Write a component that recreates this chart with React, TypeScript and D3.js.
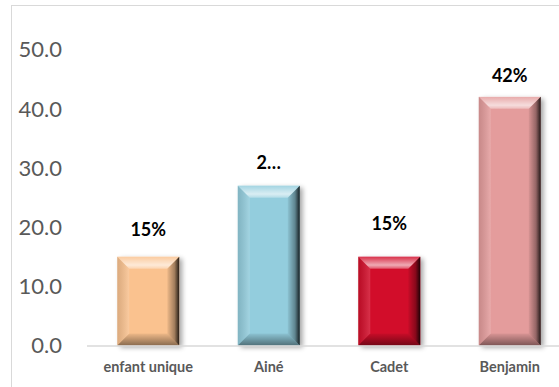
import React from "react";
import * as d3 from "d3";

const categories = ["enfant unique", "Ainé", "Cadet", "Benjamin"];
const values = [15, 27, 15, 42];
const valueLabels = ["15%", "2…", "15%", "42%"];
const barColors = ["#FAC28F", "#93CDDD", "#D2102A", "#E49C9C"];
const yTicks = [0, 10, 20, 30, 40, 50];

// label distance above the bar top (px), as placed in the original
const labelGaps = [21, 17, 27, 15];

const W = 559;
const H = 387;

export default function App() {
  const x = d3.scaleBand<string>().domain(categories).range([88, 570]).paddingInner(0.485).paddingOuter(0.2425);
  const y = d3.scaleLinear().domain([0, 50]).range([345.5, 49.5]);
  const bw = 62;
  const bev = 12;
  const font = "Lato, 'Open Sans', sans-serif";

  return (
    <svg width={W} height={H} style={{ position: "absolute", left: 0, top: 0, background: "#fff" }}>
      <defs>
        <filter id="shadow" x="-30%" y="-30%" width="160%" height="160%">
          <feGaussianBlur in="SourceAlpha" stdDeviation="2.5" />
          <feOffset dx="3" dy="2" result="b" />
          <feComponentTransfer>
            <feFuncA type="linear" slope="0.35" />
          </feComponentTransfer>
          <feMerge>
            <feMergeNode />
            <feMergeNode in="SourceGraphic" />
          </feMerge>
        </filter>
        <linearGradient id="topG" x1="0" y1="0" x2="0" y2="1">
          <stop offset="0" stopColor="#fff" stopOpacity="0.15" />
          <stop offset="0.7" stopColor="#fff" stopOpacity="0.65" />
          <stop offset="1" stopColor="#fff" stopOpacity="0.3" />
        </linearGradient>
        <linearGradient id="leftG" x1="0" y1="0" x2="1" y2="0">
          <stop offset="0" stopColor="#000" stopOpacity="0.12" />
          <stop offset="1" stopColor="#fff" stopOpacity="0.15" />
        </linearGradient>
        <linearGradient id="rightG" x1="0" y1="0" x2="1" y2="0">
          <stop offset="0" stopColor="#000" stopOpacity="0.05" />
          <stop offset="0.6" stopColor="#000" stopOpacity="0.35" />
          <stop offset="1" stopColor="#000" stopOpacity="0.85" />
        </linearGradient>
        <linearGradient id="bottomG" x1="0" y1="0" x2="0" y2="1">
          <stop offset="0" stopColor="#000" stopOpacity="0.05" />
          <stop offset="1" stopColor="#000" stopOpacity="0.45" />
        </linearGradient>
      </defs>

      <rect x={11.5} y={5.5} width={W} height={H} fill="#fff" stroke="#d9d9d9" strokeWidth={1} />

      {yTicks.map((t) => (
        <text
          key={t}
          x={62}
          y={y(t)}
          dy="0.36em"
          textAnchor="end"
          fontFamily={font}
          fontSize={22}
          fill="#595959"
        >
          {t.toFixed(1)}
        </text>
      ))}

      {categories.map((c, i) => {
        const cx = (x(c) as number) + x.bandwidth() / 2;
        const x0 = cx - bw / 2;
        const x1 = cx + bw / 2;
        const y0 = y(values[i]);
        const y1 = y(0);
        const pts = (a: number[][]) => a.map((p) => p.join(",")).join(" ");
        return (
          <g key={c}>
            <g filter="url(#shadow)">
              <rect x={x0} y={y0} width={bw} height={y1 - y0} fill={barColors[i]} />
            </g>
            <polygon points={pts([[x0, y0], [x1, y0], [x1 - bev, y0 + bev], [x0 + bev, y0 + bev]])} fill="url(#topG)" />
            <polygon points={pts([[x0, y0], [x0 + bev, y0 + bev], [x0 + bev, y1 - bev], [x0, y1]])} fill="url(#leftG)" />
            <polygon points={pts([[x1, y0], [x1 - bev, y0 + bev], [x1 - bev, y1 - bev], [x1, y1]])} fill="url(#rightG)" />
            <polygon points={pts([[x0, y1], [x0 + bev, y1 - bev], [x1 - bev, y1 - bev], [x1, y1]])} fill="url(#bottomG)" />
            <text
              x={cx}
              y={y0 - labelGaps[i]}
              textAnchor="middle"
              fontFamily={font}
              fontWeight="bold"
              fontSize={18}
              fill="#000"
            >
              {valueLabels[i]}
            </text>
            <text
              x={cx}
              y={372}
              textAnchor="middle"
              fontFamily={font}
              fontWeight="bold"
              fontSize={14.5}
              fill="#595959"
            >
              {c}
            </text>
          </g>
        );
      })}

      <line x1={87} x2={W} y1={y(0) + 0.5} y2={y(0) + 0.5} stroke="#d9d9d9" strokeWidth={1.5} />
    </svg>
  );
}
